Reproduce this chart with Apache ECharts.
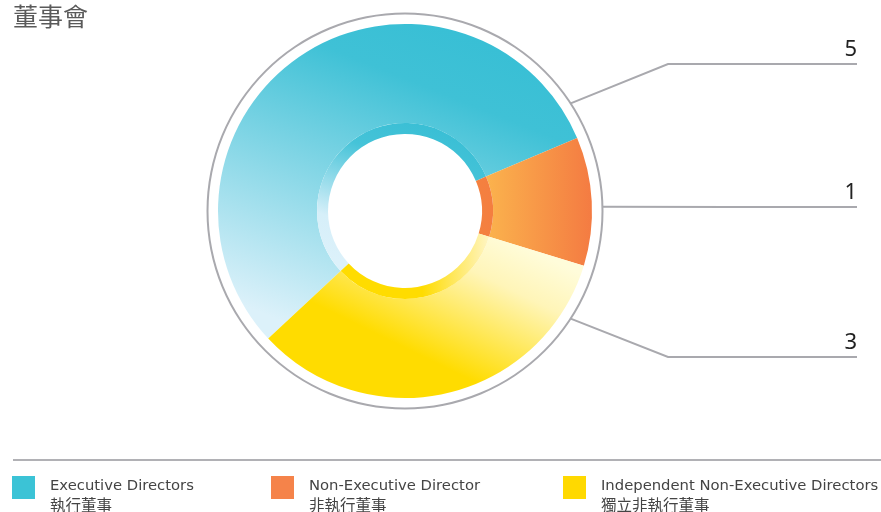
<!DOCTYPE html>
<html>
<head>
<meta charset="utf-8">
<script src="https://cdn.jsdelivr.net/npm/echarts@6/dist/echarts.min.js"></script>
<style>
html,body{margin:0;padding:0;background:#fff;}
#chart{width:881px;height:512px;}
</style>
</head>
<body>
<div id="chart"></div>
<script>
// ---- data ----
const title = '董事會';
const categories = ['Executive Directors', 'Non-Executive Director', 'Independent Non-Executive Directors'];
const categoriesZh = ['執行董事', '非執行董事', '獨立非執行董事'];
const values = [5, 1, 3];

// ---- style ----
const solidColors = ['#3bc3d6', '#f5834a', '#ffd900'];
const grad = (x, y, x2, y2, stops) => new echarts.graphic.LinearGradient(x, y, x2, y2,
  stops.map(s => ({ offset: s[0], color: s[1] })));
const outerColors = [
  grad(0.65, 0, 0.3, 1, [[0, '#38bfd5'], [0.2, '#3fc1d6'], [1, '#dcf1fa']]),
  grad(0, 0, 1, 0, [[0, '#fbb34d'], [1, '#f47b42']]),
  grad(0.75, 0, 0.5, 1, [[0, '#fffcda'], [0.25, '#fff5b8'], [0.8, '#ffdc00'], [1, '#ffdc00']])
];
const bandColors = [
  grad(0.6, 0, 0.3, 1, [[0, '#3abfd5'], [0.25, '#45c3d8'], [0.75, '#d6eff9'], [1, '#dcf1fa']]),
  grad(0, 0, 1, 0, [[0, '#f4813f'], [1, '#f47e40']]),
  grad(0, 0, 1, 0, [[0, '#ffdc00'], [0.55, '#ffdc00'], [1, '#fff5c4']])
];

const CX = 405, CY = 211, RING = 197.5;
const leaderAngles = [33, 1.2, -33];   // where each leader touches the ring
const leaderY = [64, 207, 357];
const elbowX = 668, endX = 857;

const chart = echarts.init(document.getElementById('chart'));

const legends = categories.map((name, i) => ({
  left: [12, 271, 563][i],
  top: 476,
  padding: 0,
  orient: 'horizontal',
  selectedMode: false,
  icon: 'rect',
  itemWidth: 23,
  itemHeight: 23,
  data: [{ name: name, itemStyle: { color: solidColors[i], borderWidth: 0 } }],
  formatter: n => '{a|' + n + '}\n{b|' + categoriesZh[categories.indexOf(n)] + '}',
  textStyle: {
    padding: [16, 0, 0, 10],
    rich: {
      a: { fontFamily: 'DejaVu Sans', fontSize: 14.8, color: '#444444', lineHeight: 19 },
      b: { fontFamily: 'Noto Sans CJK TC', fontSize: 15.5, color: '#444444', lineHeight: 19 }
    }
  }
}));

chart.setOption({
  animation: false,
  backgroundColor: '#ffffff',
  title: {
    text: title, left: 13, top: 4, padding: 0,
    textStyle: { fontFamily: 'Noto Sans CJK TC', fontSize: 25, fontWeight: 'normal', color: '#5a5a5a' }
  },
  legend: legends,
  graphic: [{
    type: 'line', silent: true,
    shape: { x1: 13, y1: 460, x2: 881, y2: 460 },
    style: { stroke: '#b1b1b5', lineWidth: 2 }
  }],
  series: [
    {
      name: 'ring', type: 'pie', silent: true,
      center: [CX, CY], radius: [196.5, 198.5],
      label: { show: false }, labelLine: { show: false },
      emphasis: { disabled: true },
      data: [{ name: '__ring', value: 1, itemStyle: { color: '#a9a9ae' } }]
    },
    {
      name: 'board', type: 'pie', silent: true,
      center: [CX, CY], radius: [88, 187],
      startAngle: 223, clockwise: true,
      avoidLabelOverlap: false,
      emphasis: { disabled: true },
      data: categories.map((n, i) => ({ name: n, value: values[i], itemStyle: { color: outerColors[i] } })),
      label: {
        show: true, position: 'outside', formatter: '{c}',
        fontFamily: 'Noto Sans', fontSize: 22, color: '#222222'
      },
      labelLine: { show: true, length: 20, length2: 20, lineStyle: { color: '#a9a9ae', width: 2 } },
      labelLayout: function (p) {
        const i = p.dataIndex;
        const a = leaderAngles[i] * Math.PI / 180;
        const sx = CX + RING * Math.cos(a), sy = CY - RING * Math.sin(a);
        const ex = Math.abs(sy - leaderY[i]) < 6 ? (sx + endX) / 2 : elbowX;
        return {
          x: endX, y: leaderY[i] - 3, align: 'right', verticalAlign: 'bottom',
          labelLinePoints: [[sx, sy], [ex, leaderY[i]], [endX, leaderY[i]]]
        };
      }
    },
    {
      name: 'band', type: 'pie', silent: true,
      center: [CX, CY], radius: [77, 88],
      startAngle: 223, clockwise: true,
      label: { show: false }, labelLine: { show: false },
      emphasis: { disabled: true },
      data: categories.map((n, i) => ({ name: n, value: values[i], itemStyle: { color: bandColors[i] } }))
    }
  ]
});
</script>
</body>
</html>
